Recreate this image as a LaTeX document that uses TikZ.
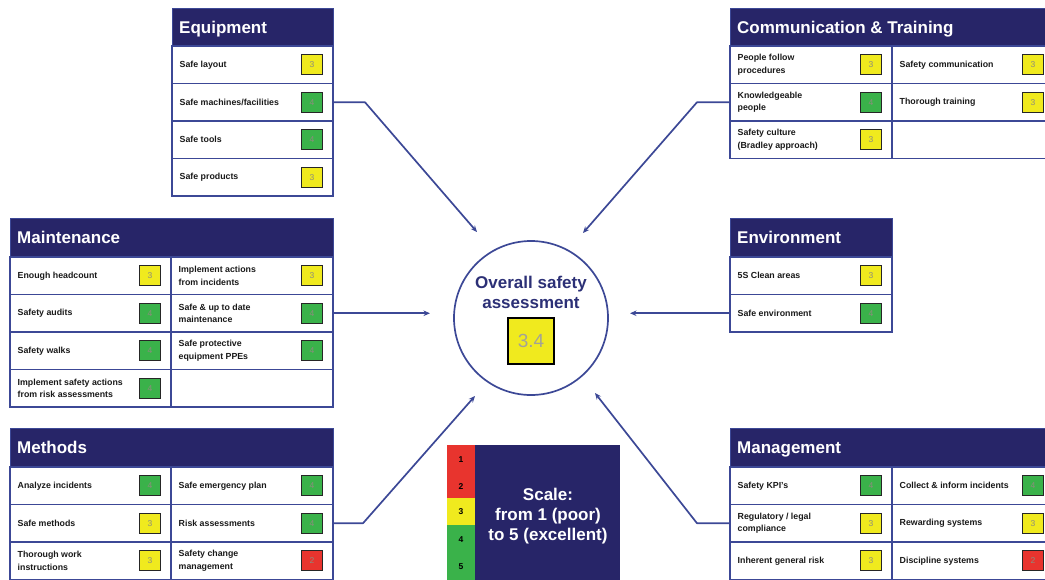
\documentclass[tikz,border=0pt]{standalone}
\usepackage{fontspec}
\setmainfont{Liberation Sans}
\usetikzlibrary{arrows.meta}
\definecolor{hnavy}{RGB}{39,37,104}
\definecolor{lblue}{RGB}{60,72,150}
\definecolor{cnavy}{RGB}{44,48,118}
\definecolor{sy}{RGB}{240,234,30}
\definecolor{sg}{RGB}{58,178,74}
\definecolor{sr}{RGB}{232,52,46}
\definecolor{numgray}{RGB}{140,140,125}
\tikzset{
 cellbox/.style={draw=lblue, line width=1.1pt, minimum height=37.5pt, inner sep=0pt, outer sep=0pt},
 celltext/.style={font=\bfseries\fontsize{8.8}{12.5}\selectfont, align=left, inner sep=0pt, text=black!90},
 scorebox/.style={draw=black!85, line width=1.2pt, minimum width=21pt, minimum height=20pt, inner sep=0pt, font=\fontsize{8.5}{9}\selectfont, text=numgray},
 headbox/.style={fill=hnavy, draw=lblue, line width=0.8pt, inner sep=0pt, outer sep=0pt, anchor=north west},
 headtext/.style={font=\bfseries\fontsize{17}{20}\selectfont, text=white, inner sep=0pt, anchor=west, text height=12.2pt, text depth=0pt},
 conn/.style={draw=lblue, line width=1.7pt, line join=round, -{Stealth[length=6.5pt,width=5.5pt]}},
 scalenum/.style={font=\bfseries\fontsize{8.5}{10}\selectfont, text=black, inner sep=0pt},
 bigtext/.style={font=\bfseries\fontsize{17}{20}\selectfont, align=center, inner sep=0pt},
}
\newcommand{\mkcell}[7]{%
 \node[cellbox, minimum width=#4pt, anchor=north west] (#1) at (#2,#3) {};
 \node[celltext, anchor=west] (#1t) at ([xshift=7.5pt]#1.west) {#5};
 \node[scorebox, fill=#6, anchor=east] (#1s) at ([xshift=-10pt]#1.east) {#7};
}
\newcommand{\mkempty}[4]{\node[cellbox, minimum width=#4pt, anchor=north west] (#1) at (#2,#3) {};}
\newcommand{\mkhead}[6]{%
 \node[headbox, minimum width=#4pt, minimum height=#5pt] (#1) at (#2,#3) {};
 \node[headtext] (#1t) at ([xshift=7pt]#1.west) {#6};
}
\begin{document}
\begin{tikzpicture}[x=1pt,y=-1pt]
\useasboundingbox (0,0) rectangle (1045,579);
% Equipment
\mkhead{eqh}{172}{8}{161}{38}{Equipment}
\mkcell{eqa}{172}{46}{161}{Safe layout}{sy}{3}
\mkcell{eqb}{172}{83.5}{161}{Safe machines/facilities}{sg}{4}
\mkcell{eqc}{172}{121}{161}{Safe tools}{sg}{4}
\mkcell{eqd}{172}{158.5}{161}{Safe products}{sy}{3}
% Communication & Training
\mkhead{cmh}{730}{8}{330}{38}{Communication \& Training}
\mkcell{cma}{730}{46}{162}{People follow\\procedures}{sy}{3}
\mkcell{cmb}{730}{83.5}{162}{Knowledgeable\\people}{sg}{4}
\mkcell{cmc}{730}{121}{162}{Safety culture\\(Bradley approach)}{sy}{3}
\mkcell{cmd}{892}{46}{162}{Safety communication}{sy}{3}
\mkcell{cmx}{892}{83.5}{162}{Thorough training}{sy}{3}
\mkempty{cmf}{892}{121}{162}
% Maintenance
\mkhead{mth}{10}{218}{323}{39}{Maintenance}
\mkcell{mta}{10}{257}{161}{Enough headcount}{sy}{3}
\mkcell{mtb}{10}{294.5}{161}{Safety audits}{sg}{4}
\mkcell{mtc}{10}{332}{161}{Safety walks}{sg}{4}
\mkcell{mtd}{10}{369.5}{161}{Implement safety actions\\from risk assessments}{sg}{4}
\mkcell{mte}{171}{257}{162}{Implement actions\\from incidents}{sy}{3}
\mkcell{mtf}{171}{294.5}{162}{Safe \& up to date\\maintenance}{sg}{4}
\mkcell{mtg}{171}{332}{162}{Safe protective\\equipment PPEs}{sg}{4}
\mkempty{mtk}{171}{369.5}{162}
% Environment
\mkhead{enh}{730}{218}{162}{39}{Environment}
\mkcell{ena}{730}{257}{162}{5S Clean areas}{sy}{3}
\mkcell{enb}{730}{294.5}{162}{Safe environment}{sg}{4}
% Methods
\mkhead{meh}{10}{428}{323}{39}{Methods}
\mkcell{mea}{10}{467}{161}{Analyze incidents}{sg}{4}
\mkcell{meb}{10}{504.5}{161}{Safe methods}{sy}{3}
\mkcell{mec}{10}{542}{161}{Thorough work\\instructions}{sy}{3}
\mkcell{med}{171}{467}{162}{Safe emergency plan}{sg}{4}
\mkcell{mee}{171}{504.5}{162}{Risk assessments}{sg}{4}
\mkcell{mef}{171}{542}{162}{Safety change\\management}{sr}{2}
% Management
\mkhead{mgh}{730}{428}{330}{39}{Management}
\mkcell{mga}{730}{467}{162}{Safety KPI's}{sg}{4}
\mkcell{mgb}{730}{504.5}{162}{Regulatory / legal\\compliance}{sy}{3}
\mkcell{mgc}{730}{542}{162}{Inherent general risk}{sy}{3}
\mkcell{mgd}{892}{467}{162}{Collect \& inform incidents}{sg}{4}
\mkcell{mgx}{892}{504.5}{162}{Rewarding systems}{sy}{3}
\mkcell{mgf}{892}{542}{162}{Discipline systems}{sr}{2}
% Centre
\node[draw=lblue, line width=1.7pt, circle, minimum size=154pt, inner sep=0pt] (ctr) at (531,318) {};
\node[bigtext, text=cnavy] (ctrt) at (531,292) {Overall safety\\assessment};
\node[draw=black, line width=2.4pt, fill=sy, minimum size=46pt, inner sep=0pt, font=\fontsize{19}{20}\selectfont, text=numgray!80] (tot) at (531,341) {3.4};
% Scale
\node[fill=hnavy, minimum width=173pt, minimum height=140pt, anchor=north west, inner sep=0pt] (scl) at (447,445) {};
\node[fill=sr, minimum width=28pt, minimum height=53pt, anchor=north west, inner sep=0pt] (sred) at (447,445) {};
\node[fill=sy, minimum width=28pt, minimum height=27pt, anchor=north west, inner sep=0pt] (syel) at (447,498) {};
\node[fill=sg, minimum width=28pt, minimum height=60pt, anchor=north west, inner sep=0pt] (sgrn) at (447,525) {};
\node[scalenum] (n1) at (461,460) {1};
\node[scalenum] (n2) at (461,487) {2};
\node[scalenum] (n3) at (461,512) {3};
\node[scalenum] (n4) at (461,540) {4};
\node[scalenum] (n5) at (461,567) {5};
\node[bigtext, text=white] (sclt) at (548,516) {Scale:\\from 1 (poor)\\to 5 (excellent)};
% Connectors
\coordinate (eqk) at (365,102.25); \coordinate (eqend) at (477,232);
\draw[conn] (eqb.east) -- (eqk) -- (eqend);
\coordinate (cmk) at (697,102.25); \coordinate (cmend) at (583,233);
\draw[conn] (cmb.west) -- (cmk) -- (cmend);
\coordinate (mtend) at (430,313.25);
\draw[conn] (mtf.east) -- (mtend);
\coordinate (enend) at (630,313.25);
\draw[conn] (enb.west) -- (enend);
\coordinate (mek) at (363,523.25); \coordinate (meend) at (475,396);
\draw[conn] (mee.east) -- (mek) -- (meend);
\coordinate (mgk) at (697,523.25); \coordinate (mgend) at (595,393);
\draw[conn] (mgb.west) -- (mgk) -- (mgend);
\end{tikzpicture}
\end{document}
